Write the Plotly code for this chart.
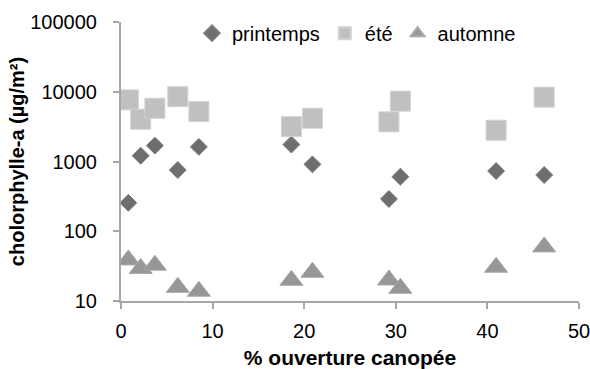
import plotly.graph_objects as go

ouverture = [0.8, 2.15, 3.7, 6.2, 8.5, 18.6, 20.9, 29.25, 30.5, 40.95, 46.2]
printemps = [256, 1210, 1690, 755, 1620, 1750, 910, 290, 605, 730, 640]
ete = [7660, 4030, 5800, 8500, 5200, 3160, 4170, 3700, 7330, 2810, 8360]
automne = [38.8, 29.3, 32.6, 15.7, 13.8, 19.8, 25.8, 20.0, 15.2, 30.5, 59.7]

x_ticks = [0, 10, 20, 30, 40, 50]
y_ticks = [10, 100, 1000, 10000, 100000]

FONT = "Liberation Sans, Arial, sans-serif"

fig = go.Figure()
fig.add_trace(go.Scatter(
    x=ouverture, y=printemps, mode="markers", name="printemps",
    marker=dict(symbol="diamond", size=13, color="#6e6e6e",
                line=dict(width=1, color="#7a7a7a")),
))
fig.add_trace(go.Scatter(
    x=ouverture, y=ete, mode="markers", name="été",
    marker=dict(symbol="square", size=20, color="#c0c0c0",
                line=dict(width=1, color="#d2d2d2")),
))
fig.add_trace(go.Scatter(
    x=ouverture, y=automne, mode="markers", name="automne",
    marker=dict(symbol="triangle-up", size=20, color="#979797",
                line=dict(width=1, color="#a8a8a8")),
))

axis_common = dict(
    showgrid=False, zeroline=False, showline=True, linecolor="#a6a6a6",
    linewidth=2, ticks="outside", tickcolor="#a6a6a6", ticklen=6,
    tickwidth=1.5, tickfont=dict(family=FONT, size=20, color="#000000"),
    automargin=False, ticklabeloverflow="allow",
)

fig.update_layout(
    width=590, height=369,
    margin=dict(l=121, r=11, t=22, b=68),
    paper_bgcolor="white", plot_bgcolor="white",
    showlegend=True,
    legend=dict(
        orientation="h", x=0.155, y=0.96, xanchor="left", yanchor="middle",
        font=dict(family=FONT, size=20, color="#000000"),
        bgcolor="rgba(0,0,0,0)", itemsizing="constant", tracegroupgap=0,
    ),
    xaxis=dict(
        range=[0, 50], tickvals=x_ticks, ticktext=[str(v) for v in x_ticks],
        title=dict(text="<b>% ouverture canopée</b>",
                   font=dict(family=FONT, size=21, color="#000000"), standoff=9),
        ticklabelstandoff=5,
        **axis_common,
    ),
    yaxis=dict(
        type="log", range=[1, 5], tickvals=y_ticks,
        ticktext=[str(v) for v in y_ticks],
        title=dict(text="<b>cholorphylle-a (µg/m²)</b>",
                   font=dict(family=FONT, size=20, color="#000000"), standoff=0),
        ticklabelstandoff=12,
        **axis_common,
    ),
)

# remove the default page margin so the 590x369 figure fills the window
fig.write_html("out.html", config={"displayModeBar": False},
               post_script="document.body.style.margin='0';")
